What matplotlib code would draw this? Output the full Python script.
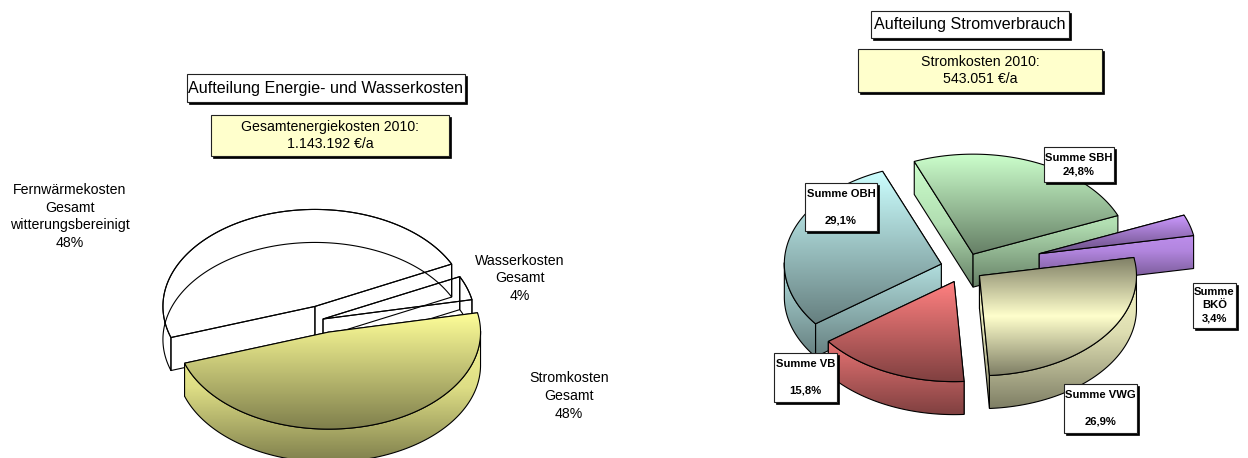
import numpy as np
import matplotlib
matplotlib.use('Agg')
import matplotlib.pyplot as plt
from matplotlib.patches import Polygon, Rectangle

plt.rcParams['font.family'] = ['Liberation Sans', 'DejaVu Sans']

# left chart
energy_names = ['Fernwärmekosten\nGesamt\nwitterungsbereinigt', 'Wasserkosten\nGesamt', 'Stromkosten\nGesamt']
energy_shares = [48, 4, 48]
energy_title = 'Aufteilung Energie- und Wasserkosten'
energy_note = 'Gesamtenergiekosten 2010:\n1.143.192 €/a'

# right chart
strom_names = ['Summe SBH', 'Summe\nBKÖ', 'Summe VWG\n', 'Summe VB\n', 'Summe OBH\n']
strom_shares = [24.8, 3.4, 26.9, 15.8, 29.1]
strom_title = 'Aufteilung Stromverbrauch'
strom_note = 'Stromkosten 2010:\n543.051 €/a'

# everything is laid out in image pixels
W, H = 1248, 458
fig = plt.figure(figsize=(W / 100, H / 100), dpi=100)
ax = fig.add_axes([0, 0, 1, 1])
ax.axis('off')

z = [1]


def next_z():
	z[0] += 1
	return z[0]


def mix(col, f):
	return tuple(c * f for c in matplotlib.colors.to_rgb(col))


def grad_poly(pts, stops, y0=None, y1=None):
	# polygon filled with a vertical gradient, stops go from top to bottom
	pts = np.array(pts)
	y0 = pts[:, 1].min() if y0 is None else y0
	y1 = pts[:, 1].max() if y1 is None else y1
	n = 128
	pos = np.linspace(0, 1, n)
	sp = np.linspace(0, 1, len(stops))
	rows = np.array([np.interp(pos, sp, [s[i] for s in stops]) for i in range(3)]).T
	zz = next_z()
	im = ax.imshow(rows[:, None, :], extent=(pts[:, 0].min() - 1, pts[:, 0].max() + 1, y1, y0),
		aspect='auto', zorder=zz, interpolation='bilinear')
	clip = Polygon(pts, closed=True, transform=ax.transData, fc='none', ec='none')
	im.set_clip_path(clip)
	ax.add_patch(Polygon(pts, closed=True, fc='none', ec='black', lw=0.8, zorder=zz))


def pie3d(shares, cx, cy, a, b, depth, start, explode, styles):
	# shares run clockwise from the start angle, painted in the order given by styles
	angs = [start]
	for s in shares:
		angs.append(angs[-1] - s * 3.6)
	for i, st in sorted(enumerate(styles), key=lambda p: p[1]['order']):
		t0, t1 = np.radians(angs[i]), np.radians(angs[i + 1])
		m = (t0 + t1) / 2
		x0 = cx + explode[i] * a * np.cos(m)
		y0 = cy - explode[i] * b * np.sin(m)
		t = np.linspace(t0, t1, 160)
		arc = np.c_[x0 + a * np.cos(t), y0 - b * np.sin(t)]
		apex = np.array([x0, y0])
		d = np.array([0, depth])
		top = np.vstack([apex, arc])
		w1 = [apex, arc[0], arc[0] + d, apex + d]
		w2 = [apex, arc[-1], arc[-1] + d, apex + d]
		rim = np.vstack([arc, arc[::-1] + d])
		if st['col'] is None:
			# no fill, just the wire frame
			zz = next_z()
			for p in (top, w1, w2, rim):
				ax.add_patch(Polygon(p, closed=True, fc='none', ec='black', lw=0.8, zorder=zz))
			continue
		c = matplotlib.colors.to_rgb(st['col'])
		dark = mix(c, 0.5)
		allp = np.vstack([top, top + d])
		wy0 = min(arc[0, 1], arc[-1, 1], y0)
		wy1 = allp[:, 1].max()
		wall_stops = [c, mix(c, 0.87), dark]
		# back wall first, the one in front goes over it
		for w in sorted((w1, w2), key=lambda p: np.mean([q[1] for q in p])):
			grad_poly(w, wall_stops, wy0, wy1)
		front = t[np.sin(t) < 0.02]
		if len(front):
			fa = np.c_[x0 + a * np.cos(front), y0 - b * np.sin(front)]
			grad_poly(np.vstack([fa, fa[::-1] + d]), wall_stops, wy0, wy1)
		if st.get('mid'):
			grad_poly(top, [dark, c, dark])
		else:
			grad_poly(top, [c, dark])


def box(x0, y0, x1, y1, txt, fc='white', size=11, weight='normal', shadow=2, ls=1.33):
	ax.add_patch(Rectangle((x0 + shadow, y0 + shadow), x1 - x0, y1 - y0, fc='black', ec='black', lw=0.5, zorder=500))
	ax.add_patch(Rectangle((x0, y0), x1 - x0, y1 - y0, fc=fc, ec='#222222', lw=0.8, zorder=501))
	ax.text((x0 + x1) / 2, (y0 + y1) / 2, txt, ha='center', va='center', fontsize=size,
		fontweight=weight, color='black', zorder=502, linespacing=ls)


pie3d(energy_shares, 323, 319, 152, 97, 33, 198.7, [0.14, 0, 0.14], [
	{'col': None, 'order': 0},
	{'col': None, 'order': 1},
	{'col': '#FFFF99', 'order': 2},
])

pie3d(strom_shares, 964, 268, 157, 100, 33, 112, [0.15, 0.5, 0.125, 0.15, 0.15], [
	{'col': '#CCFFCC', 'order': 1},
	{'col': '#CC99FF', 'order': 2},
	{'col': '#FFFFCC', 'order': 4, 'mid': True},
	{'col': '#FF8080', 'order': 3},
	{'col': '#CCFFFF', 'order': 0},
])

# free labels of the left pie
ax.text(70, 216.5, energy_names[0] + '\n%d%%' % energy_shares[0], ha='center', va='center', fontsize=10.2, linespacing=1.33)
ax.text(520, 278.5, energy_names[1] + '\n%d%%' % energy_shares[1], ha='center', va='center', fontsize=10.2, linespacing=1.33)
ax.text(569, 396, energy_names[2] + '\n%d%%' % energy_shares[2], ha='center', va='center', fontsize=10.2, linespacing=1.33)

box(187, 74, 465, 102, energy_title, size=11.6)
box(211, 115, 449, 156, energy_note, fc='#FFFFCC', size=10.2)
box(871, 11, 1069, 38, strom_title, size=11.6)
box(858, 49, 1102, 92, strom_note, fc='#FFFFCC', size=10.2)


def pct(v):
	return ('%.1f%%' % v).replace('.', ',')


label_boxes = [(1044, 147, 1114, 182), (1193, 283, 1236, 328), (1064, 384, 1137, 433), (774, 353, 837, 402), (805, 183, 877, 231)]
for name, v, bb in zip(strom_names, strom_shares, label_boxes):
	box(bb[0], bb[1], bb[2], bb[3], name + '\n' + pct(v), size=8.1, weight='bold', shadow=1.5, ls=1.38)

ax.set_xlim(0, W)
ax.set_ylim(H, 0)
fig.savefig('out.png', dpi=100, facecolor='white')
